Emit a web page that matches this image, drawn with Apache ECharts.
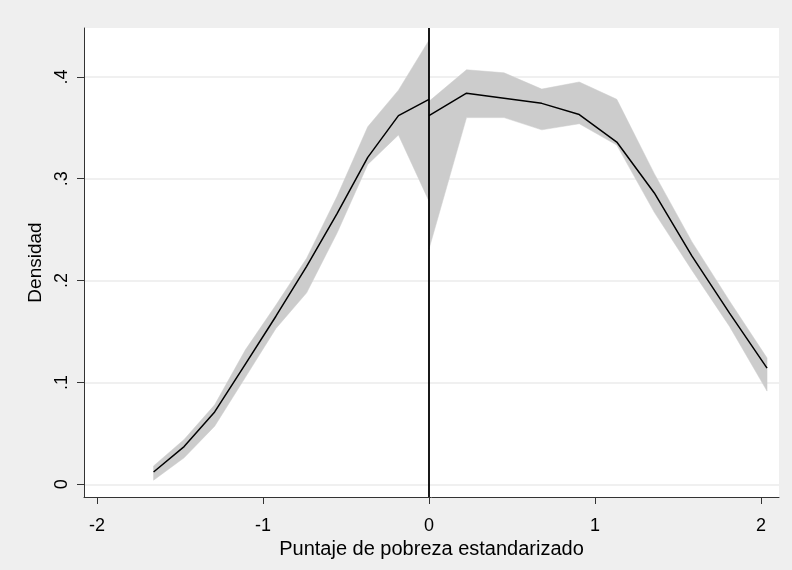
<!DOCTYPE html>
<html>
<head>
<meta charset="utf-8">
<script src="https://cdn.jsdelivr.net/npm/echarts@6/dist/echarts.min.js"></script>
<style>
html,body{margin:0;padding:0;background:#efefef;}
#chart{width:792px;height:570px;}
</style>
</head>
<body>
<div id="chart"></div>
<script>
// Left of cutoff
const xLeft  = [-1.659, -1.475, -1.291, -1.106, -0.922, -0.737, -0.553, -0.369, -0.184, 0];
const yLeft  = [0.012, 0.037, 0.071, 0.118, 0.165, 0.214, 0.266, 0.321, 0.362, 0.378];
const loLeft = [0.004, 0.026, 0.057, 0.105, 0.153, 0.188, 0.247, 0.314, 0.343, 0.278];
const hiLeft = [0.018, 0.044, 0.078, 0.132, 0.176, 0.222, 0.283, 0.351, 0.387, 0.436];
// Right of cutoff
const xRight  = [0, 0.226, 0.452, 0.679, 0.905, 1.131, 1.357, 1.584, 1.810, 2.036];
const yRight  = [0.362, 0.384, 0.379, 0.374, 0.363, 0.336, 0.286, 0.224, 0.168, 0.114];
const loRight = [0.231, 0.360, 0.360, 0.348, 0.354, 0.333, 0.267, 0.210, 0.155, 0.0915];
const hiRight = [0.376, 0.407, 0.404, 0.388, 0.395, 0.378, 0.305, 0.238, 0.180, 0.124];
// Axes
const xTicks = [-2, -1, 0, 1, 2];
const xTickLabels = ['-2', '-1', '0', '1', '2'];
const yTicks = [0, 0.1, 0.2, 0.3, 0.4];
const yTickLabels = ['0', '.1', '.2', '.3', '.4'];
const cutoff = [0];

const FONT = 'Liberation Sans, Arial, Helvetica, sans-serif';
const pairs = (xs, ys) => xs.map((x, i) => [x, ys[i]]);
const lookup = (ticks, labels) => v => {
  const i = ticks.findIndex(t => Math.abs(t - v) < 1e-9);
  return i >= 0 ? labels[i] : '';
};

function bandSeries(xs, lo, hi) {
  return {
    type: 'custom', silent: true, z: 1,
    data: xs.map((x, i) => [x, lo[i], hi[i]]),
    encode: { x: 0, y: [1, 2] },
    renderItem: function (params, api) {
      if (params.dataIndex !== 0) return null;
      const pts = [];
      for (let i = 0; i < xs.length; i++) pts.push(api.coord([xs[i], hi[i]]));
      for (let i = xs.length - 1; i >= 0; i--) pts.push(api.coord([xs[i], lo[i]]));
      return { type: 'polygon', shape: { points: pts },
               style: { fill: '#cccccc', stroke: '#cccccc', lineWidth: 0.5 } };
    }
  };
}

const chart = echarts.init(document.getElementById('chart'));
chart.setOption({
  backgroundColor: '#efefef',
  animation: false,
  textStyle: { fontFamily: FONT },
  grid: { left: 84, right: 13, top: 28, bottom: 73, show: true, backgroundColor: '#ffffff',
          borderWidth: 0, containLabel: false, outerBoundsMode: 'none' },
  xAxis: {
    type: 'value', min: -2.078, max: 2.108,
    name: 'Puntaje de pobreza estandarizado', nameLocation: 'middle', nameGap: 37,
    nameTextStyle: { fontSize: 20, color: '#000', fontFamily: FONT },
    axisLine: { onZero: false, lineStyle: { color: '#333', width: 1 } },
    axisTick: { customValues: xTicks, length: 7, lineStyle: { color: '#333' } },
    axisLabel: { customValues: xTicks, fontSize: 18, color: '#000', margin: 20,
                 formatter: lookup(xTicks, xTickLabels), fontFamily: FONT },
    splitLine: { show: false }
  },
  yAxis: {
    type: 'value', min: -0.0125, max: 0.448,
    name: 'Densidad', nameLocation: 'middle', nameGap: 37,
    nameTextStyle: { fontSize: 19, color: '#000', fontFamily: FONT },
    axisLine: { show: true, onZero: false, lineStyle: { color: '#333', width: 1 } },
    axisTick: { show: true, customValues: yTicks, length: 7, lineStyle: { color: '#333' } },
    axisLabel: { customValues: yTicks, fontSize: 18, color: '#000', margin: 13, rotate: 90,
                 formatter: lookup(yTicks, yTickLabels), fontFamily: FONT },
    splitLine: { show: true, lineStyle: { color: '#ebebeb', width: 1.5 } }
  },
  series: [
    bandSeries(xLeft, loLeft, hiLeft),
    bandSeries(xRight, loRight, hiRight),
    { type: 'line', data: pairs(xLeft, yLeft), symbol: 'none', silent: true, z: 3,
      lineStyle: { color: '#000', width: 1.5 } },
    { type: 'line', data: pairs(xRight, yRight), symbol: 'none', silent: true, z: 3,
      lineStyle: { color: '#000', width: 1.5 },
      markLine: { silent: true, symbol: ['none', 'none'], label: { show: false },
                  lineStyle: { color: '#000', width: 1.8, type: 'solid' },
                  data: cutoff.map(v => ({ xAxis: v })) } }
  ]
});
</script>
</body>
</html>
